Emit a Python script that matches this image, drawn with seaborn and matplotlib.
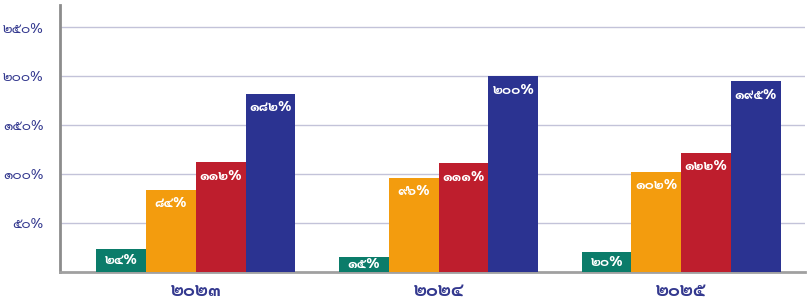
import matplotlib
matplotlib.use("Agg")
import matplotlib.pyplot as plt
from matplotlib import font_manager
import seaborn as sns
import pandas as pd

# ---- data ----
years = ["๒๐๒๓", "๒๐๒๔", "๒๐๒๕"]
series = ["A", "B", "C", "D"]
values_a = [24, 15, 20]
values_b = [84, 96, 102]
values_c = [112, 111, 122]
values_d = [182, 200, 195]
thai_digits = "๐๑๒๓๔๕๖๗๘๙"
yticks = [50, 100, 150, 200, 250]

colors = ["#0b7c6a", "#f39c0e", "#be1e2d", "#2b3391"]
label_color = "#34398f"


def thai_num(n):
    return "".join(thai_digits[int(c)] for c in str(n))


sns.set_theme(style="white")
names = {f.name for f in font_manager.fontManager.ttflist}
pref = ["Sarabun", "IBM Plex Sans Thai", "Noto Sans Thai", "Prompt", "Kanit", "Anuphan"]
thai_font = next((p for p in pref if p in names), None)
fam = ([thai_font] if thai_font else []) + ["DejaVu Sans"]
plt.rcParams["font.family"] = fam

rows = []
for i, y in enumerate(years):
    for s, vals in zip(series, [values_a, values_b, values_c, values_d]):
        rows.append({"year": y, "series": s, "value": vals[i]})
df = pd.DataFrame(rows)

fig = plt.figure(figsize=(8.09, 3.0), dpi=100)
ax = fig.add_axes([60 / 809, 28 / 300, 745 / 809, 267 / 300])

sns.barplot(data=df, x="year", y="value", hue="series", palette=colors,
            width=0.82, saturation=1, ax=ax, legend=False, zorder=3,
            linewidth=0, edgecolor="none")

ax.set_ylim(0, 273)
ax.set_xlim(-0.56, 2.51)
ax.set_yticks(yticks)
ax.set_yticklabels([thai_num(v) + "%" for v in yticks], color=label_color,
                   fontsize=10)
ax.yaxis.grid(True, color="#c3c3d9", linewidth=1, zorder=0)
ax.tick_params(axis="y", length=0, pad=12)
ax.tick_params(axis="x", length=0, pad=8)
for lbl in ax.get_xticklabels():
    lbl.set_color(label_color)
    lbl.set_fontsize(13)
    lbl.set_fontweight("bold")
ax.set_xlabel("")
ax.set_ylabel("")

for side in ["top", "right"]:
    ax.spines[side].set_visible(False)
ax.spines["left"].set_color("#8c8c8c")
ax.spines["left"].set_linewidth(2)
ax.spines["bottom"].set_color("#a0a0a0")
ax.spines["bottom"].set_linewidth(2)

for cont in ax.containers:
    for bar in cont:
        h = bar.get_height()
        x = bar.get_x() + bar.get_width() / 2
        y = h - 14 if h > 30 else h / 2
        ax.text(x, y, thai_num(int(round(h))) + "%", ha="center", va="center",
                color="white", fontsize=10, fontweight="bold", zorder=4)

fig.savefig("out.png", dpi=100)
